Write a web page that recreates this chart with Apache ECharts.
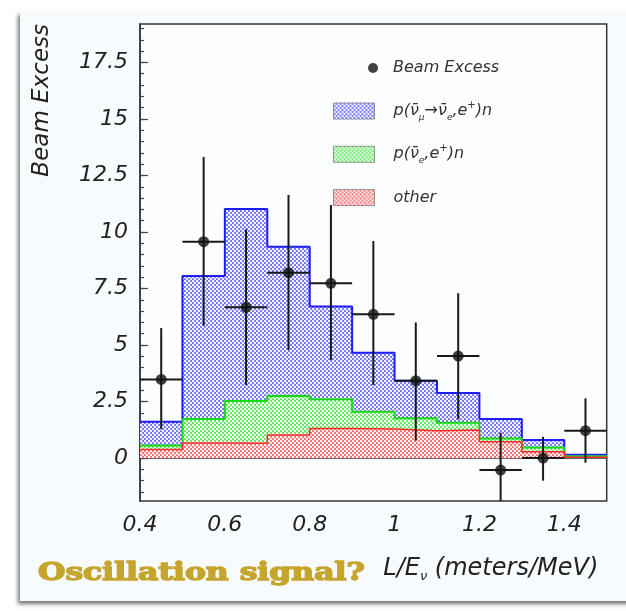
<!DOCTYPE html>
<html><head><meta charset="utf-8">
<script src="https://cdn.jsdelivr.net/npm/echarts@6/dist/echarts.min.js"></script>
<style>
html,body{margin:0;padding:0;background:#ffffff;overflow:hidden;}
#card{position:absolute;left:20px;top:12px;width:620px;height:589px;background:#f7fbfe;box-shadow:-2px 3px 4px rgba(0,0,0,0.55);}
#c{position:absolute;left:0;top:0;width:626px;height:611px;}
</style>
</head><body><div id="card"></div><div id="c"></div>
<script>
// ---- data ----
const binEdges = [0.4, 0.5, 0.6, 0.7, 0.8, 0.9, 1.0, 1.1, 1.2, 1.3, 1.4, 1.5];
const otherBg   = [0.38, 0.67, 0.66, 1.02, 1.31, 1.28, 1.21, 1.24, 0.72, 0.28, 0.04];
const nueBg     = [0.17, 1.06, 1.86, 1.72, 1.29, 0.77, 0.55, 0.32, 0.15, 0.19, 0.04];
const oscSignal = [1.06, 6.32, 8.50, 6.61, 4.10, 2.61, 1.66, 1.32, 0.86, 0.33, 0.07];
const excessX    = [0.45, 0.55, 0.65, 0.75, 0.85, 0.95, 1.05, 1.15, 1.25, 1.35, 1.45];
const excessY    = [3.48, 9.57, 6.67, 8.20, 7.73, 6.36, 3.42, 4.51, -0.53, 0.00, 1.21];
const excessLow  = [1.28, 5.84, 3.23, 4.78, 4.34, 3.23, 0.77, 1.71, -2.20, -1.00, -0.21];
const excessHigh = [5.75, 13.32, 10.12, 11.64, 11.19, 9.60, 6.00, 7.29, 1.12, 0.94, 2.64];
const xTickLabels = [0.4, 0.6, 0.8, 1.0, 1.2, 1.4];
const yTickLabels = [0, 2.5, 5, 7.5, 10, 12.5, 15, 17.5];
const yMinorTicks = [-1.5,-1,-0.5,0,0.5,1,1.5,2,2.5,3,3.5,4,4.5,5,5.5,6,6.5,7,7.5,8,8.5,9,9.5,10,10.5,11,11.5,12,12.5,13,13.5,14,14.5,15,15.5,16,16.5,17,17.5,18,18.5,19];

const NAME_OSC = 'p(ν̄μ→ν̄e,e+)n';
const NAME_NUE = 'p(ν̄e,e+)n';
const NAME_OTH = 'other';
const NAME_EXC = 'Beam Excess';

// ---- helpers ----
function makePattern(base) {
  const c = document.createElement('canvas');
  c.width = 4; c.height = 4;
  const g = c.getContext('2d');
  g.fillStyle = base; g.fillRect(0, 0, 4, 4);
  g.fillStyle = 'rgba(255,255,255,0.9)';
  g.beginPath(); g.arc(1, 1, 1.35, 0, Math.PI * 2); g.fill();
  g.beginPath(); g.arc(3, 3, 1.35, 0, Math.PI * 2); g.fill();
  return { image: c, repeat: 'repeat' };
}
const bluePat = makePattern('#6a6af4');
const greenPat = makePattern('#55e455');
const redPat = makePattern('#f46666');

const nBins = binEdges.length - 1;
const greenTop = [], blueTop = [];
for (let i = 0; i < nBins; i++) {
  greenTop.push(otherBg[i] + nueBg[i]);
  blueTop.push(otherBg[i] + nueBg[i] + oscSignal[i]);
}
function stepData(vals) {
  const d = vals.map((v, i) => [binEdges[i], v]);
  d.push([binEdges[nBins], vals[nBins - 1]]);
  return d;
}

const FONT = 'DejaVu Sans';
const legendRich = {
  t: { fontFamily: FONT, fontStyle: 'italic', fontSize: 16, color: '#333', lineHeight: 22 },
  s: { fontFamily: FONT, fontStyle: 'italic', fontSize: 9, color: '#333', verticalAlign: 'bottom' },
  p: { fontFamily: FONT, fontStyle: 'italic', fontSize: 10, color: '#333', verticalAlign: 'top' }
};
const legendText = {};
legendText[NAME_OSC] = '{t|p(ν̄}{s|μ}{t|→ν̄}{s|e}{t|,e}{p|+}{t|)n}';
legendText[NAME_NUE] = '{t|p(ν̄}{s|e}{t|,e}{p|+}{t|)n}';
legendText[NAME_OTH] = '{t|other}';

const chart = echarts.init(document.getElementById('c'), null, { renderer: 'canvas' });

const option = {
  animation: false,
  backgroundColor: 'transparent',
  grid: { left: 140, right: 19.3, top: 24, bottom: 110, show: true, borderColor: '#363636', borderWidth: 1.5, backgroundColor: '#fbfdff' },
  legend: [
    {
      data: [NAME_EXC], orient: 'vertical', left: 368, top: 60, padding: 0,
      itemWidth: 10, itemHeight: 10, icon: 'circle', selectedMode: false,
      textStyle: { fontFamily: FONT, fontStyle: 'italic', fontSize: 16, color: '#333', lineHeight: 16, padding: [0, 0, 0, 10] }
    },
    {
      data: [
        { name: NAME_OSC, itemStyle: { color: bluePat, borderColor: '#8a8a9a', borderWidth: 1 } },
        { name: NAME_NUE, itemStyle: { color: greenPat, borderColor: '#8a9a8a', borderWidth: 1 } },
        { name: NAME_OTH, itemStyle: { color: redPat, borderColor: '#9a8a8a', borderWidth: 1 } }
      ],
      orient: 'vertical', left: 333, top: 100, padding: 0, itemGap: 21.3,
      itemWidth: 41, itemHeight: 16, icon: 'rect', selectedMode: false,
      formatter: n => legendText[n],
      textStyle: { fontFamily: FONT, fontStyle: 'italic', fontSize: 16, color: '#333', lineHeight: 22, padding: [0, 0, 0, 14], rich: legendRich }
    }
  ],
  xAxis: [
    {
      type: 'value', min: 0.4, max: 1.5,
      name: '{g|}{t|L/E}{s|ν}{t| (meters/MeV)}', nameLocation: 'middle', nameGap: 53,
      nameMoveOverlap: false,
      nameTextStyle: {
        align: 'left', verticalAlign: 'top',
        rich: {
          g: { width: 10, lineHeight: 29 },
          t: { fontFamily: FONT, fontStyle: 'italic', fontSize: 24, color: '#222', lineHeight: 29 },
          s: { fontFamily: FONT, fontStyle: 'italic', fontSize: 13, color: '#222', verticalAlign: 'bottom' }
        }
      },
      axisLine: { show: true, lineStyle: { color: '#363636', width: 1.5 } },
      axisTick: { show: true, inside: true, length: 8, customValues: xTickLabels, lineStyle: { color: '#444', width: 1.2 } },
      axisLabel: { show: true, customValues: xTickLabels, margin: 13, fontFamily: FONT, fontStyle: 'italic', fontSize: 22, color: '#222' },
      splitLine: { show: false }
    },
    {
      type: 'value', min: 0.4, max: 1.5, interval: 0.05, position: 'bottom',
      axisLine: { show: false }, axisLabel: { show: false }, splitLine: { show: false },
      axisTick: { show: true, inside: true, length: 4, lineStyle: { color: '#444', width: 1.2 } }
    }
  ],
  yAxis: [
    {
      type: 'value', min: -1.9, max: 19.2,
      name: 'Beam Excess', nameLocation: 'end', nameGap: 0, nameRotate: 90,
      nameMoveOverlap: false,
      nameTextStyle: { align: 'right', verticalAlign: 'bottom', padding: [0, 0, 86, 0], fontFamily: FONT, fontStyle: 'italic', fontSize: 23, color: '#222', lineHeight: 23 },
      axisLine: { show: true, lineStyle: { color: '#363636', width: 1.5 } },
      axisTick: { show: true, inside: true, length: 8, customValues: yTickLabels, lineStyle: { color: '#444', width: 1.2 } },
      axisLabel: { show: true, customValues: yTickLabels, margin: 12, fontFamily: FONT, fontStyle: 'italic', fontSize: 22, color: '#222' },
      splitLine: { show: false }
    },
    {
      type: 'value', min: -1.9, max: 19.2, position: 'left',
      axisLine: { show: false }, axisLabel: { show: false }, splitLine: { show: false },
      axisTick: { show: true, inside: true, length: 4, customValues: yMinorTicks, lineStyle: { color: '#444', width: 1.2 } }
    }
  ],
  series: [
    {
      name: NAME_OSC, type: 'line', step: 'end', data: stepData(blueTop), symbol: 'none', showSymbol: false,
      lineStyle: { color: '#1c1cff', width: 2 }, itemStyle: { color: '#1c1cff' },
      areaStyle: { color: bluePat, opacity: 1 }, z: 2, silent: true
    },
    {
      name: NAME_NUE, type: 'line', step: 'end', data: stepData(greenTop), symbol: 'none', showSymbol: false,
      lineStyle: { color: '#18d818', width: 2 }, itemStyle: { color: '#18d818' },
      areaStyle: { color: greenPat, opacity: 1 }, z: 3, silent: true
    },
    {
      name: NAME_OTH, type: 'line', step: 'end', data: stepData(otherBg), symbol: 'none', showSymbol: false,
      lineStyle: { color: '#ff2a2a', width: 1.5 }, itemStyle: { color: '#ff2a2a' },
      areaStyle: { color: redPat, opacity: 1 }, z: 4, silent: true
    },
    {
      name: 'errors', type: 'custom', clip: true, z: 5, silent: true,
      encode: { x: 0, y: 1 },
      data: excessX.map((x, i) => [x, excessY[i], excessLow[i], excessHigh[i], binEdges[i], binEdges[i + 1]]),
      renderItem: function (params, api) {
        const lo = api.coord([api.value(0), api.value(2)]);
        const hi = api.coord([api.value(0), api.value(3)]);
        const l = api.coord([api.value(4), api.value(1)]);
        const r = api.coord([api.value(5), api.value(1)]);
        const st = { stroke: '#1a1a1a', lineWidth: 2 };
        return {
          type: 'group', children: [
            { type: 'line', shape: { x1: lo[0], y1: lo[1], x2: hi[0], y2: hi[1] }, style: st },
            { type: 'line', shape: { x1: l[0], y1: l[1], x2: r[0], y2: r[1] }, style: st }
          ]
        };
      }
    },
    {
      name: NAME_EXC, type: 'scatter', data: excessX.map((x, i) => [x, excessY[i]]),
      symbol: 'circle', symbolSize: 11, itemStyle: { color: '#111' }, z: 6, silent: true
    }
  ],
  graphic: [
    {
      type: 'text', x: 38, y: 574, scaleX: 1.31, silent: true,
      style: { text: 'Oscillation signal?', fontFamily: 'DejaVu Serif', fontWeight: 'bold', fontSize: 24, fill: '#c6a52d', stroke: '#c6a52d', lineWidth: 1.4, align: 'left', verticalAlign: 'middle' }
    }
  ]
};
chart.setOption(option);
</script>
</body></html>
